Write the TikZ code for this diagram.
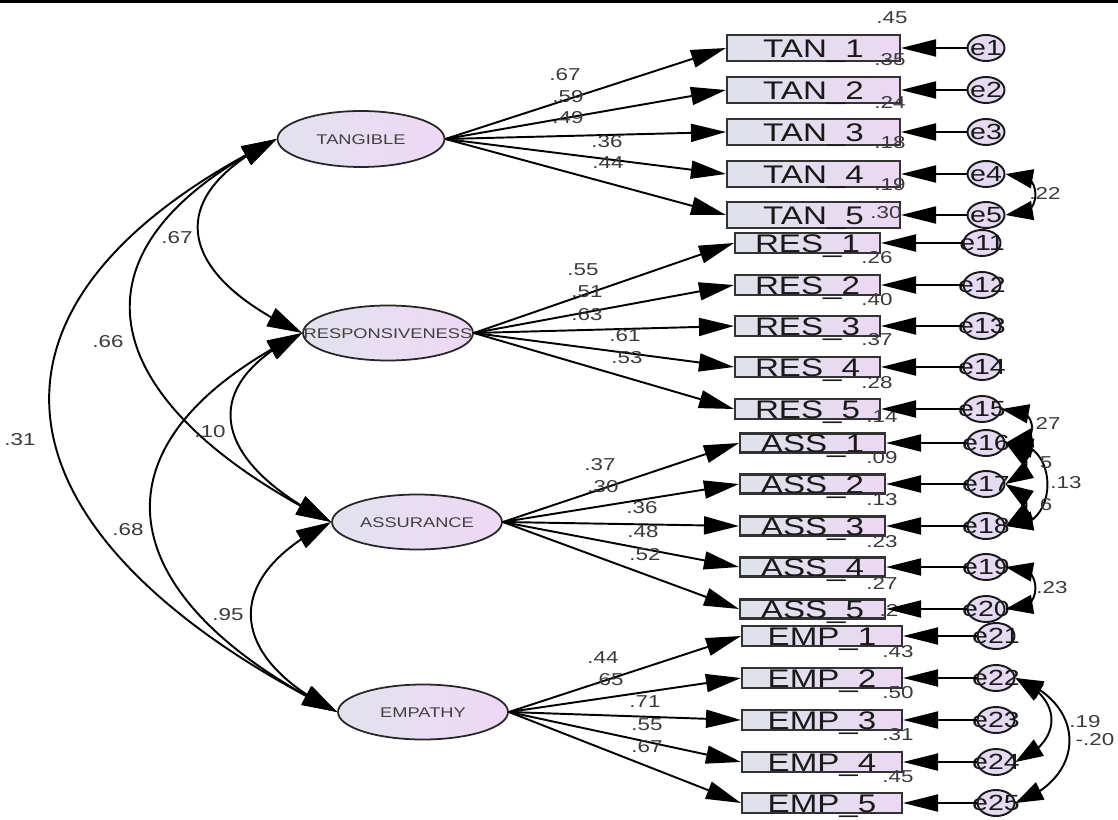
\documentclass[tikz,border=0pt]{standalone}
\usepackage{fontspec}
\setmainfont{Liberation Sans}[FakeStretch=1.3]
\usetikzlibrary{arrows.meta,shapes.geometric,bending}

% text that does not enlarge its node, centred on the caps
\newcommand{\vc}[1]{\makebox[0pt][c]{\raisebox{-0.36em}[0pt][0pt]{#1}}}

\definecolor{boxL}{RGB}{222,226,234}
\definecolor{boxR}{RGB}{236,216,244}
\definecolor{latL}{RGB}{226,226,238}
\definecolor{latR}{RGB}{238,216,246}
\definecolor{errF}{RGB}{230,218,242}
\definecolor{numC}{RGB}{58,58,58}

\tikzset{
  latent/.style={ellipse, draw=black!85, line width=1pt, inner sep=0pt,
    minimum width=3.4cm, minimum height=1.1cm, left color=latL, right color=latR,
    font=\fontsize{8}{8}\selectfont, text=black!75},
  item/.style={rectangle, draw=black!80, line width=1.2pt, inner sep=0pt,
    left color=boxL, right color=boxR,
    font=\fontsize{14.5}{15}\selectfont, text=black!90},
  err/.style={ellipse, draw=black!90, line width=1.1pt, fill=errF, inner sep=0pt,
    minimum width=0.74cm, minimum height=0.52cm,
    font=\fontsize{12.5}{13}\selectfont, text=black!90},
  num/.style={inner sep=0pt, font=\fontsize{9.8}{10}\selectfont, text=numC},
  load/.style={line width=1.1pt, -{Triangle[length=7mm,width=3.6mm]}},
  eload/.style={line width=1.1pt, -{Triangle[length=7mm,width=3.4mm]}},
  cov/.style={line width=1.1pt,
    {Triangle[length=7mm,width=4mm]}-{Triangle[length=7mm,width=4mm]}},
  ecov/.style={line width=1.1pt,
    {Triangle[length=5.5mm,width=3.8mm]}-{Triangle[length=5.5mm,width=3.8mm]}}
}

\begin{document}
\begin{tikzpicture}[x=0.02cm,y=-0.02cm]
\useasboundingbox (0,0) rectangle (1118,820);
\fill[black] (0,0) rectangle (1118,3);

% latent factors
\node[latent, minimum width=3.34cm, minimum height=1.12cm] (tan) at (361,139) {\vc{TANGIBLE}};
\node[latent] (res) at (388,333) {\vc{RESPONSIVENESS}};
\node[latent] (ass) at (417,522) {\vc{ASSURANCE}};
\node[latent] (emp) at (423,712) {\vc{EMPATHY}};

% observed items and their error terms
\foreach \i/\y in {1/48,2/90,3/132,4/174,5/215}{
  \node[item, minimum width=3.46cm, minimum height=0.52cm] (tan\i) at (813.5,\y) {\vc{TAN\_\i}};
  \node[err] (e\i) at (986,\y) {\vc{e\i}};
}
\foreach \i/\e/\y in {1/11/243,2/12/285,3/13/326,4/14/367,5/15/409}{
  \node[item, minimum width=2.9cm, minimum height=0.4cm] (res\i) at (807.5,\y) {\vc{RES\_\i}};
  \node[err] (e\e) at (982,\y) {\vc{e\e}};
}
\foreach \i/\e/\y in {1/16/443,2/17/484,3/18/526,4/19/567,5/20/609}{
  \node[item, minimum width=2.9cm, minimum height=0.38cm] (ass\i) at (812.5,\y) {\vc{ASS\_\i}};
  \node[err] (e\e) at (986,\y) {\vc{e\e}};
}
\foreach \i/\e/\y in {1/21/636,2/22/678,3/23/720,4/24/762,5/25/803}{
  \node[item, minimum width=3.2cm, minimum height=0.4cm] (emp\i) at (822,\y) {\vc{EMP\_\i}};
  \node[err] (e\e) at (996,\y) {\vc{e\e}};
}

% squared multiple correlations
\node[num] (r1) at (892,18) {.45};
\node[num] (r2) at (890,60) {.35};
\node[num] (r3) at (890,102) {.24};
\node[num] (r4) at (890,143) {.18};
\node[num] (r5) at (890,185) {.19};
\node[num] (r6) at (886,213) {.30};
\node[num] (r7) at (877,258) {.26};
\node[num] (r8) at (877,300) {.40};
\node[num] (r9) at (877,340) {.37};
\node[num] (r10) at (877,383) {.28};
\node[num] (r11) at (882,417) {.14};
\node[num] (r12) at (882,458) {.09};
\node[num] (r13) at (882,500) {.13};
\node[num] (r14) at (882,542) {.23};
\node[num] (r15) at (882,583) {.27};
\node[num] (r16) at (889,610) {.2};
\node[num] (r17) at (898,652) {.43};
\node[num] (r18) at (898,693) {.50};
\node[num] (r19) at (898,735) {.31};
\node[num] (r20) at (898,777) {.45};

% factor loadings
\foreach \i in {1,...,5}{
  \draw[load] (tan.east) -- (tan\i.west);
  \draw[load] (res.east) -- (res\i.west);
  \draw[load] (ass.east) -- (ass\i.west);
  \draw[load] (emp.east) -- (emp\i.west);
}
\foreach \i in {1,...,5}{ \draw[eload] (e\i.west) -- (tan\i.east); }
\foreach \i/\e in {1/11,2/12,3/13,4/14,5/15}{ \draw[eload] (e\e.west) -- (res\i.east); }
\foreach \i/\e in {1/16,2/17,3/18,4/19,5/20}{ \draw[eload] (e\e.west) -- (ass\i.east); }
\foreach \i/\e in {1/21,2/22,3/23,4/24,5/25}{ \draw[eload] (e\e.west) -- (emp\i.east); }

\node[num] (l1) at (565,75) {.67};
\node[num] (l2) at (568,97) {.59};
\node[num] (l3) at (568,118) {.49};
\node[num] (l4) at (607,142) {.36};
\node[num] (l5) at (608,163) {.44};
\node[num] (l6) at (583,270) {.55};
\node[num] (l7) at (587,292) {.51};
\node[num] (l8) at (587,315) {.63};
\node[num] (l9) at (625,336) {.61};
\node[num] (l10) at (627,358) {.53};
\node[num] (l11) at (600,465) {.37};
\node[num] (l12) at (603,487) {.30};
\node[num] (l13) at (642,508) {.36};
\node[num] (l14) at (643,532) {.48};
\node[num] (l15) at (645,555) {.52};
\node[num] (l16) at (603,658) {.44};
\node[num] (l17) at (608,680) {.65};
\node[num] (l18) at (645,702) {.71};
\node[num] (l19) at (647,725) {.55};
\node[num] (l20) at (647,747) {.67};

% factor correlations
\draw[cov] (tan.west) .. controls +(-121,60) and +(-121,-55) .. (res.west);
\draw[cov] (tan.west) .. controls +(-229,115) and +(-229,-115) .. (ass.west);
\draw[cov] (tan.west) .. controls +(-341,170) and +(-341,-170) .. (emp.west);
\draw[cov] (res.west) .. controls +(-113,56) and +(-113,-56) .. (ass.west);
\draw[cov] (res.west) .. controls +(-225,112) and +(-225,-112) .. (emp.west);
\draw[cov] (ass.west) .. controls +(-111,55) and +(-111,-55) .. (emp.west);

\node[num] (c1) at (177,238) {.67};
\node[num] (c2) at (108,342) {.66};
\node[num] (c3) at (20,440) {.31};
\node[num] (c4) at (210,432) {.10};
\node[num] (c5) at (128,530) {.68};
\node[num] (c6) at (228,615) {.95};

% error covariances
\draw[ecov] (e4.east) .. controls +(40,-10) and +(40,10) .. (e5.east);
\draw[ecov] (e15.east) .. controls +(38,-8) and +(38,8) .. (e16.east);
\draw[ecov] (e16.east) .. controls +(28,-4) and +(28,4) .. (e17.east);
\draw[ecov] (e17.east) .. controls +(28,-4) and +(28,4) .. (e18.east);
\draw[ecov] (e16.east) .. controls +(56,-8) and +(56,8) .. (e18.east);
\draw[ecov] (e19.east) .. controls +(40,-10) and +(40,10) .. (e20.east);
\draw[ecov] (e22.east) .. controls +(48,20) and +(48,-20) .. (e24.east);
\draw[ecov] (e22.east) .. controls +(72,25) and +(72,-25) .. (e25.east);

\node[num] (v1) at (1045,193) {.22};
\node[num] (v2) at (1045,423) {.27};
\node[num] (v3) at (1046,463) {5};
\node[num] (v4) at (1066,483) {.13};
\node[num] (v5) at (1046,505) {6};
\node[num] (v6) at (1052,588) {.23};
\node[num] (v7) at (1085,722) {.19};
\node[num] (v8) at (1095,740) {-.20};
\end{tikzpicture}
\end{document}
